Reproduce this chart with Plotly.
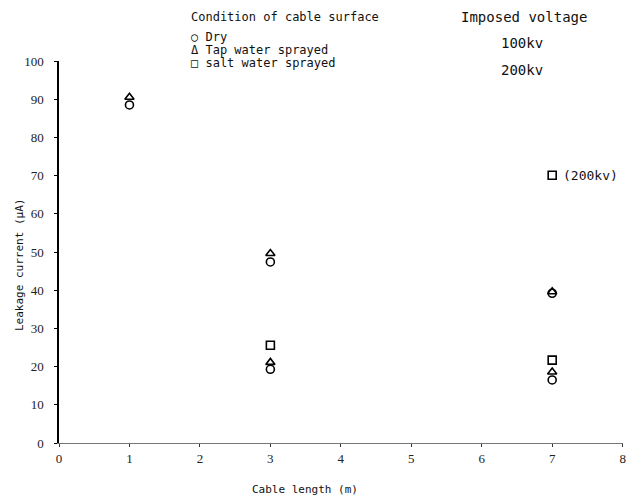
import plotly.graph_objects as go

# cable length (m) and leakage current (uA) for each surface condition
dry_x = [1, 3, 3, 7, 7]
dry_y = [88.5, 47.4, 19.3, 39.2, 16.5]

tap_x = [1, 3, 3, 7, 7]
tap_y = [90.5, 49.6, 21.1, 39.6, 18.6]

salt_x = [3, 7, 7]
salt_y = [25.6, 21.7, 70.1]

x_ticks = [0, 1, 2, 3, 4, 5, 6, 7, 8]
y_ticks = [0, 10, 20, 30, 40, 50, 60, 70, 80, 90, 100]

txt_font = dict(family="DejaVu Sans Mono", size=12, color="#111111")
big_font = dict(family="DejaVu Sans Mono", size=14, color="#111111")
tick_font = dict(family="Liberation Serif", size=13, color="#222222")

fig = go.Figure()

def add_series(name, xs, ys, symbol):
    fig.add_trace(go.Scatter(
        name=name, x=xs, y=ys, mode="markers",
        marker=dict(symbol=symbol, size=8, color="black",
                    line=dict(color="black", width=1.6)),
        showlegend=False
    ))

add_series("Dry", dry_x, dry_y, "circle-open")
add_series("Tap water sprayed", tap_x, tap_y, "triangle-up-open")
add_series("salt water sprayed", salt_x, salt_y, "square-open")

# page body has an 8px margin, so the figure is a bit smaller than the window
fig.update_layout(
    width=626, height=496,
    margin=dict(l=51, r=8, t=53, b=61),
    paper_bgcolor="white", plot_bgcolor="white",
    xaxis=dict(range=[0, 8.005], tickvals=x_ticks, showgrid=False, zeroline=False,
               showline=True, linecolor="#777777", linewidth=1,
               ticks="outside", ticklen=3, tickcolor="#333333",
               tickfont=tick_font, ticklabelstandoff=0),
    yaxis=dict(range=[0, 100], tickvals=y_ticks, showgrid=False, zeroline=False,
               showline=True, linecolor="black", linewidth=1.5,
               ticks="outside", ticklen=3, tickcolor="black",
               tickfont=tick_font, ticklabelstandoff=8),
)

# header / legend text, written as plain annotations
notes = [
    ("Condition of cable surface", 0.231, 1.115, txt_font),
    ("○ Dry", 0.231, 1.063, txt_font),
    ("Δ Tap water sprayed", 0.231, 1.029, txt_font),
    ("□ salt water sprayed", 0.231, 0.995, txt_font),
    ("Imposed voltage", 0.709, 1.115, big_font),
    ("100kv", 0.780, 1.047, big_font),
    ("200kv", 0.780, 0.976, big_font),
]
for text, xp, yp, fnt in notes:
    fig.add_annotation(text=text, x=xp, y=yp, xref="paper", yref="paper",
                       xanchor="left", yanchor="middle", showarrow=False,
                       font=fnt)

fig.add_annotation(text="(200kv)", x=salt_x[2], y=salt_y[2], xanchor="left",
                   yanchor="middle", xshift=9, showarrow=False,
                   font=dict(family="DejaVu Sans Mono", size=13, color="#111111"))

# axis titles
fig.add_annotation(text="Cable length (m)", x=0.436, y=-0.123, xref="paper",
                   yref="paper", showarrow=False, xanchor="center",
                   yanchor="middle",
                   font=dict(family="DejaVu Sans Mono", size=11, color="#111111"))
fig.add_annotation(text="Leakage current (μA)", x=-0.069, y=0.466, xref="paper",
                   yref="paper", showarrow=False, textangle=-90,
                   xanchor="center", yanchor="middle",
                   font=dict(family="DejaVu Sans Mono", size=11, color="#111111"))

fig.write_html("out.html")
